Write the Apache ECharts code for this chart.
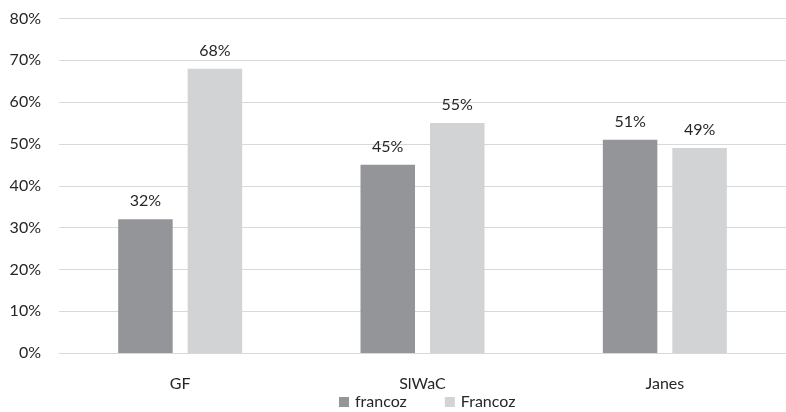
<!DOCTYPE html>
<html>
<head>
<meta charset="utf-8">
<script src="https://cdn.jsdelivr.net/npm/echarts@6/dist/echarts.min.js"></script>
<style>
  html, body { margin: 0; padding: 0; background: #fff; }
  #chart { width: 786px; height: 412px; }
</style>
</head>
<body>
<div id="chart"></div>
<script>
// Share of each spelling per corpus
const categories = ['GF', 'SlWaC', 'Janes'];
const seriesNames = ['francoz', 'Francoz'];
const lowerValues = [32, 45, 51];
const upperValues = [68, 55, 49];
const yTicks = [0, 10, 20, 30, 40, 50, 60, 70, 80];

const FONT = 'Lato, "Open Sans", sans-serif';
const TEXT = '#262626';
const SIZE = 16;

const chart = echarts.init(document.getElementById('chart'), null, { renderer: 'canvas' });

const labelStyle = {
  show: true,
  position: 'top',
  distance: 10,
  formatter: p => p.value + '%',
  color: TEXT,
  fontFamily: FONT,
  fontSize: SIZE
};

chart.setOption({
  animation: false,
  textStyle: { fontFamily: FONT },
  grid: { left: 59, width: 732.5, top: 18.5, height: 334.5, containLabel: false },
  legend: {
    top: 394,
    left: 334,
    padding: [0, 5],
    itemWidth: 10,
    itemHeight: 10,
    itemGap: 38,
    icon: 'rect',
    textStyle: { color: TEXT, fontSize: SIZE, fontFamily: FONT, padding: [0, 0, 0, 1] },
    data: seriesNames
  },
  xAxis: {
    type: 'category',
    data: categories,
    axisTick: { show: false },
    axisLine: { lineStyle: { color: '#d9d9d9', width: 1 } },
    axisLabel: { color: TEXT, fontSize: SIZE, fontFamily: FONT, margin: 23 }
  },
  yAxis: {
    type: 'value',
    min: yTicks[0],
    max: yTicks[yTicks.length - 1],
    interval: 10,
    axisLine: { show: false },
    axisTick: { show: false },
    splitLine: { lineStyle: { color: '#d9d9d9', width: 1 } },
    axisLabel: {
      color: TEXT, fontSize: SIZE, fontFamily: FONT, margin: 18,
      formatter: v => v + '%'
    }
  },
  series: [
    {
      name: seriesNames[0],
      type: 'bar',
      data: lowerValues,
      barWidth: 54.5,
      barGap: '27.5%',
      itemStyle: { color: '#939598' },
      label: labelStyle
    },
    {
      name: seriesNames[1],
      type: 'bar',
      data: upperValues,
      barWidth: 54.5,
      barGap: '27.5%',
      itemStyle: { color: '#d1d3d4' },
      label: labelStyle
    }
  ]
});
</script>
</body>
</html>
